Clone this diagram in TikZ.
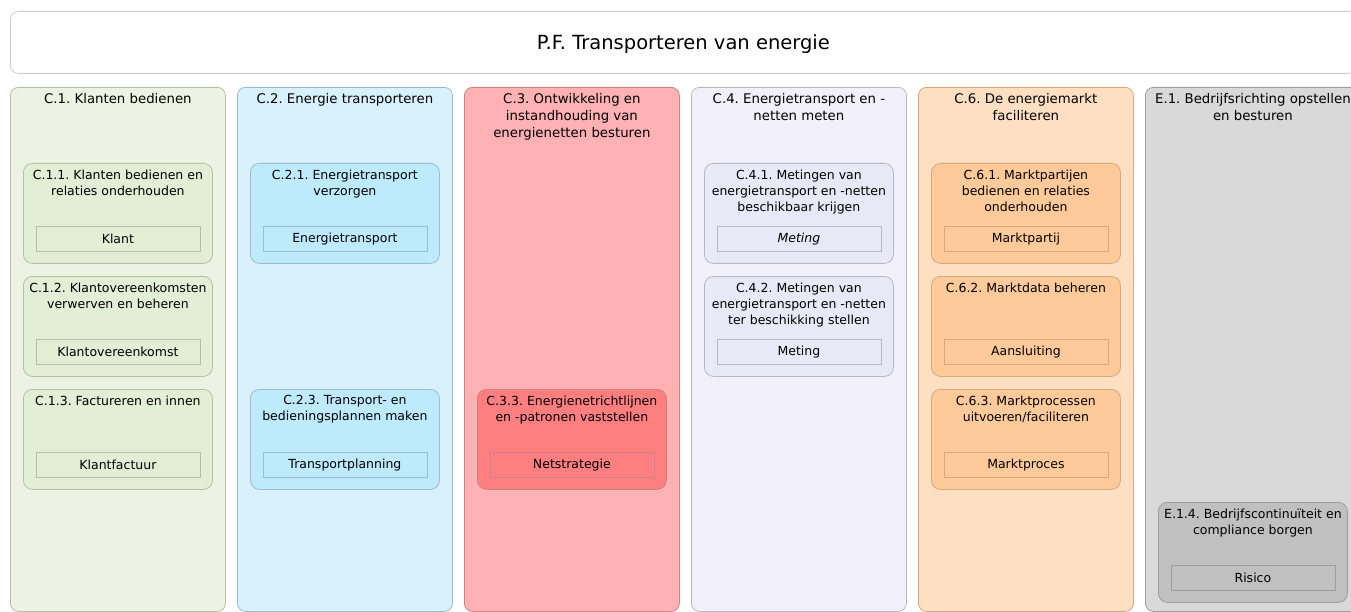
\documentclass[tikz,border=0pt]{standalone}
\usepackage{fontspec}
\setmainfont{DejaVu Sans}
\usetikzlibrary{positioning}
\frenchspacing
\definecolor{greencol}{HTML}{EDF3E3}
\definecolor{greenproc}{HTML}{E3EED6}
\definecolor{greenedge}{HTML}{B4BFA6}
\definecolor{bluecol}{HTML}{D8F1FD}
\definecolor{blueproc}{HTML}{BDEBFD}
\definecolor{blueedge}{HTML}{9BBCCB}
\definecolor{redcol}{HTML}{FFB1B4}
\definecolor{redproc}{HTML}{FF7F80}
\definecolor{rededge}{HTML}{C98587}
\definecolor{lilaccol}{HTML}{F2F1FB}
\definecolor{lilacproc}{HTML}{E9E8F6}
\definecolor{lilacedge}{HTML}{B8B7C4}
\definecolor{orangecol}{HTML}{FFDFC1}
\definecolor{orangeproc}{HTML}{FFCA99}
\definecolor{orangeedge}{HTML}{D4AA80}
\definecolor{greycol}{HTML}{D9D9D9}
\definecolor{greyproc}{HTML}{C0C0C0}
\definecolor{greyedge}{HTML}{9E9E9E}
\tikzset{
  colbox/.style={draw, rounded corners=8pt, line width=0.8pt, anchor=north west,
                 minimum width=215pt, minimum height=524pt, inner sep=0pt},
  procbox/.style={draw, rounded corners=9pt, line width=0.8pt, anchor=north west,
                  minimum width=189pt, minimum height=100pt, inner sep=0pt},
  objbox/.style={draw, line width=0.8pt, minimum width=164pt, minimum height=25pt,
                 inner sep=0pt, font=\fontsize{12.5}{14}\selectfont},
  coltitle/.style={anchor=north, align=center, inner sep=0pt, font=\fontsize{13.3}{17}\selectfont},
  proctitle/.style={anchor=north, align=center, inner sep=0pt, font=\fontsize{12.5}{16}\selectfont},
  green/.style={fill=greencol, draw=greenedge},
  greenp/.style={fill=greenproc, draw=greenedge},
  blue/.style={fill=bluecol, draw=blueedge},
  bluep/.style={fill=blueproc, draw=blueedge},
  red/.style={fill=redcol, draw=rededge},
  redp/.style={fill=redproc, draw=rededge},
  lilac/.style={fill=lilaccol, draw=lilacedge},
  lilacp/.style={fill=lilacproc, draw=lilacedge},
  orange/.style={fill=orangecol, draw=orangeedge},
  orangep/.style={fill=orangeproc, draw=orangeedge},
  grey/.style={fill=greycol, draw=greyedge},
  greyp/.style={fill=greyproc, draw=greyedge},
}
\begin{document}
\begin{tikzpicture}[x=1pt, y=-1pt]
  \useasboundingbox (0,0) rectangle (1351,612);
  \clip (0,0) rectangle (1351,612);
  % title
  \node[draw=black!20, rounded corners=8pt, line width=0.8pt, anchor=north west, minimum width=1346pt,
        minimum height=62pt] (pf) at (10,11) {};
  \node[inner sep=0pt, font=\fontsize{19.5}{23}\selectfont] (pft) at ([yshift=-2pt]pf.center) {P.F. Transporteren van energie};
  % columns
  \node[colbox, green] (c1) at (10,87) {};
  \node[colbox, blue] (c2) at (237,87) {};
  \node[colbox, red] (c3) at (464,87) {};
  \node[colbox, lilac] (c4) at (691,87) {};
  \node[colbox, orange] (c6) at (918,87) {};
  \node[colbox, grey] (e1) at (1145,87) {};
  \node[coltitle] (c1t) at ([yshift=-6.5pt]c1.north) {C.1. Klanten bedienen};
  \node[coltitle] (c2t) at ([yshift=-6.5pt]c2.north) {C.2. Energie transporteren};
  \node[coltitle] (c3t) at ([yshift=-6.5pt]c3.north) {C.3. Ontwikkeling en\\instandhouding van\\energienetten besturen};
  \node[coltitle] (c4t) at ([yshift=-6.5pt]c4.north) {C.4. Energietransport en -\\netten meten};
  \node[coltitle] (c6t) at ([yshift=-6.5pt]c6.north) {C.6. De energiemarkt\\faciliteren};
  \node[coltitle] (e1t) at ([yshift=-6.5pt]e1.north) {E.1. Bedrijfsrichting opstellen\\en besturen};
  % C.1
  \node[procbox, greenp] (c11) at (23,163) {};
  \node[proctitle] (c11t) at ([yshift=-6.5pt]c11.north) {C.1.1. Klanten bedienen en\\relaties onderhouden};
  \node[objbox, draw=greenedge] (klant) at ([yshift=24.5pt]c11.south) {Klant};
  \node[procbox, greenp] (c12) at (23,276) {};
  \node[proctitle] (c12t) at ([yshift=-6.5pt]c12.north) {C.1.2. Klantovereenkomsten\\verwerven en beheren};
  \node[objbox, draw=greenedge] (kov) at ([yshift=24.5pt]c12.south) {Klantovereenkomst};
  \node[procbox, greenp] (c13) at (23,389) {};
  \node[proctitle] (c13t) at ([yshift=-6.5pt]c13.north) {C.1.3. Factureren en innen};
  \node[objbox, draw=greenedge] (kfac) at ([yshift=24.5pt]c13.south) {Klantfactuur};
  % C.2
  \node[procbox, bluep] (c21) at (250,163) {};
  \node[proctitle] (c21t) at ([yshift=-6.5pt]c21.north) {C.2.1. Energietransport\\verzorgen};
  \node[objbox, draw=blueedge] (etr) at ([yshift=24.5pt]c21.south) {Energietransport};
  \node[procbox, bluep] (c23) at (250,389) {};
  \node[proctitle] (c23t) at ([yshift=-6.5pt]c23.north) {C.2.3. Transport- en\\bedieningsplannen maken};
  \node[objbox, draw=blueedge] (tpl) at ([yshift=24.5pt]c23.south) {Transportplanning};
  % C.3
  \node[procbox, redp] (c33) at (477,389) {};
  \node[proctitle] (c33t) at ([yshift=-6.5pt]c33.north) {C.3.3. Energienetrichtlijnen\\en -patronen vaststellen};
  \node[objbox, draw=rededge] (nstr) at ([yshift=24.5pt]c33.south) {Netstrategie};
  % C.4
  \node[procbox, lilacp] (c41) at (704,163) {};
  \node[proctitle] (c41t) at ([yshift=-6.5pt]c41.north) {C.4.1. Metingen van\\energietransport en -netten\\beschikbaar krijgen};
  \node[objbox, draw=lilacedge] (met1) at ([yshift=24.5pt]c41.south) {\itshape Meting};
  \node[procbox, lilacp] (c42) at (704,276) {};
  \node[proctitle] (c42t) at ([yshift=-6.5pt]c42.north) {C.4.2. Metingen van\\energietransport en -netten\\ter beschikking stellen};
  \node[objbox, draw=lilacedge] (met2) at ([yshift=24.5pt]c42.south) {Meting};
  % C.6
  \node[procbox, orangep] (c61) at (931,163) {};
  \node[proctitle] (c61t) at ([yshift=-6.5pt]c61.north) {C.6.1. Marktpartijen\\bedienen en relaties\\onderhouden};
  \node[objbox, draw=orangeedge] (mpar) at ([yshift=24.5pt]c61.south) {Marktpartij};
  \node[procbox, orangep] (c62) at (931,276) {};
  \node[proctitle] (c62t) at ([yshift=-6.5pt]c62.north) {C.6.2. Marktdata beheren};
  \node[objbox, draw=orangeedge] (aans) at ([yshift=24.5pt]c62.south) {Aansluiting};
  \node[procbox, orangep] (c63) at (931,389) {};
  \node[proctitle] (c63t) at ([yshift=-6.5pt]c63.north) {C.6.3. Marktprocessen\\uitvoeren/faciliteren};
  \node[objbox, draw=orangeedge] (mproc) at ([yshift=24.5pt]c63.south) {Marktproces};
  % E.1
  \node[procbox, greyp] (e14) at (1158,502) {};
  \node[proctitle] (e14t) at ([yshift=-6.5pt]e14.north) {E.1.4. Bedrijfscontinuïteit en\\compliance borgen};
  \node[objbox, draw=greyedge] (ris) at ([yshift=24.5pt]e14.south) {Risico};
\end{tikzpicture}
\end{document}
